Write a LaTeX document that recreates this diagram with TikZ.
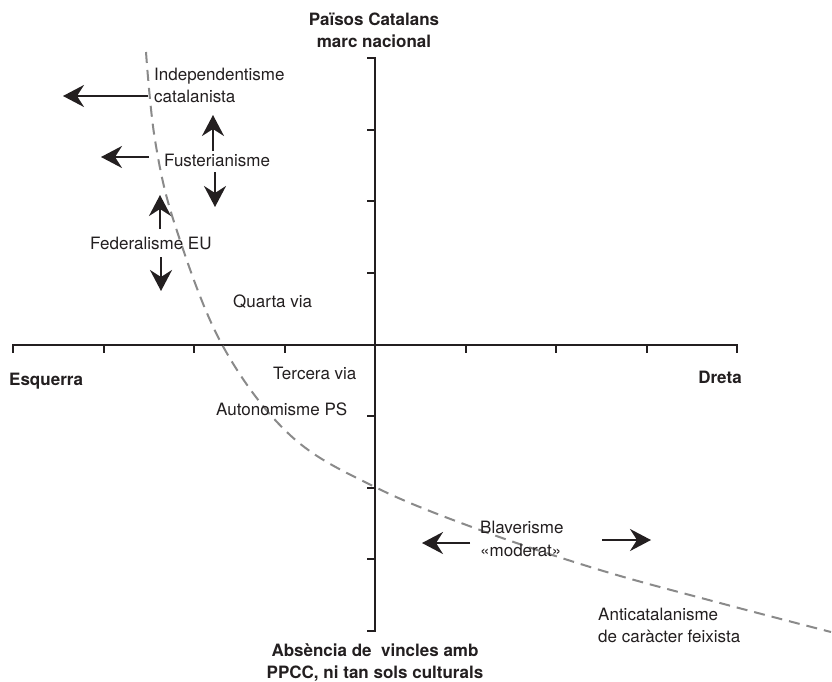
\documentclass[tikz,border=0pt]{standalone}
\usepackage{fontspec}
\setmainfont{TeX Gyre Heros}
\usetikzlibrary{arrows.meta}
\definecolor{ink}{HTML}{231F20}
\definecolor{dashgray}{HTML}{8A8A8A}
\begin{document}
\begin{tikzpicture}[x=1pt,y=-1pt,
  lbl/.style={font=\fontsize{17}{22.5}\selectfont, inner sep=0pt, text=ink},
  blbl/.style={font=\fontsize{17}{22.5}\selectfont\bfseries, inner sep=0pt, text=ink},
  axisline/.style={line width=2pt, draw=ink, line join=miter},
  tickline/.style={line width=2pt, draw=ink},
  arr/.style={line width=2.2pt, draw=ink, -{Stealth[length=21pt,width=22pt,inset=7pt]}},
  curveline/.style={draw=dashgray, line width=2pt, dash pattern=on 11pt off 7pt}]
\fill[white] (0,0) rectangle (832,681);
\useasboundingbox (0,0) rectangle (832,681);

% axes
\coordinate (vtop) at (375,58);
\coordinate (vbot) at (375,631);
\coordinate (hleft) at (13,344.5);
\coordinate (hright) at (737,344.5);
\draw[axisline] ([xshift=-8pt]vtop) -- (vtop) -- (vbot) -- ([xshift=-8pt]vbot);
\draw[axisline] ([yshift=-8pt]hleft) -- (hleft) -- (hright) -- ([yshift=-8pt]hright);
\foreach \yy in {129.6,201.25,272.9,416,487.75,559.4}
  \draw[tickline] (367,\yy) -- (375,\yy);
\foreach \xx in {103.5,194,284.5,465.5,556,646.5}
  \draw[tickline] (\xx,344.5) -- (\xx,352.5);

% dashed curve
\draw[curveline] plot[smooth, tension=0.6] coordinates {(146,52) (155,140) (175,225) (222,344.5) (290,435) (375,487) (480,530) (600,570) (720,603) (831,632)};

% axis labels
\node[blbl, align=center] (top) at (374,30.5) {Països Catalans\\marc nacional};
\node[blbl, align=center] (bottom) at (375,662.5) {Absència de\ \ vincles amb\\PPCC, ni tan sols culturals};
\node[blbl, anchor=west] (esq) at (9,381) {Esquerra};
\node[blbl, anchor=east] (dre) at (742,377) {Dreta};

% labels
\node[lbl, anchor=west, align=left] (indep) at (154,85.5) {Independentisme\\catalanista};
\node[lbl, anchor=west] (fust) at (164,160) {Fusterianisme};
\node[lbl, anchor=west] (fed) at (90,243) {Federalisme EU};
\node[lbl, anchor=west] (quarta) at (233,302) {Quarta via};
\node[lbl, anchor=west] (tercera) at (273,373) {Tercera via};
\node[lbl, anchor=west] (auto) at (216,409) {Autonomisme PS};
\node[lbl, anchor=west, align=left] (blav) at (480,539) {Blaverisme\\«moderat»};
\node[lbl, anchor=west, align=left] (anti) at (598,625.5) {Anticatalanisme\\de caràcter feixista};

% arrows
\coordinate (a1s) at (148,96);  \coordinate (a1e) at (63,96);
\coordinate (a2s) at (213,151); \coordinate (a2e) at (213,115);
\coordinate (a3s) at (149,157); \coordinate (a3e) at (101,157);
\coordinate (a4s) at (215,172); \coordinate (a4e) at (215,207);
\coordinate (a5s) at (160,229); \coordinate (a5e) at (160,195);
\coordinate (a6s) at (161,257); \coordinate (a6e) at (161,291);
\coordinate (a7s) at (470,543); \coordinate (a7e) at (422,543);
\coordinate (a8s) at (602,540); \coordinate (a8e) at (651,540);
\draw[arr] (a1s) -- (a1e);
\draw[arr] (a2s) -- (a2e);
\draw[arr] (a3s) -- (a3e);
\draw[arr] (a4s) -- (a4e);
\draw[arr] (a5s) -- (a5e);
\draw[arr] (a6s) -- (a6e);
\draw[arr] (a7s) -- (a7e);
\draw[arr] (a8s) -- (a8e);
\end{tikzpicture}
\end{document}
